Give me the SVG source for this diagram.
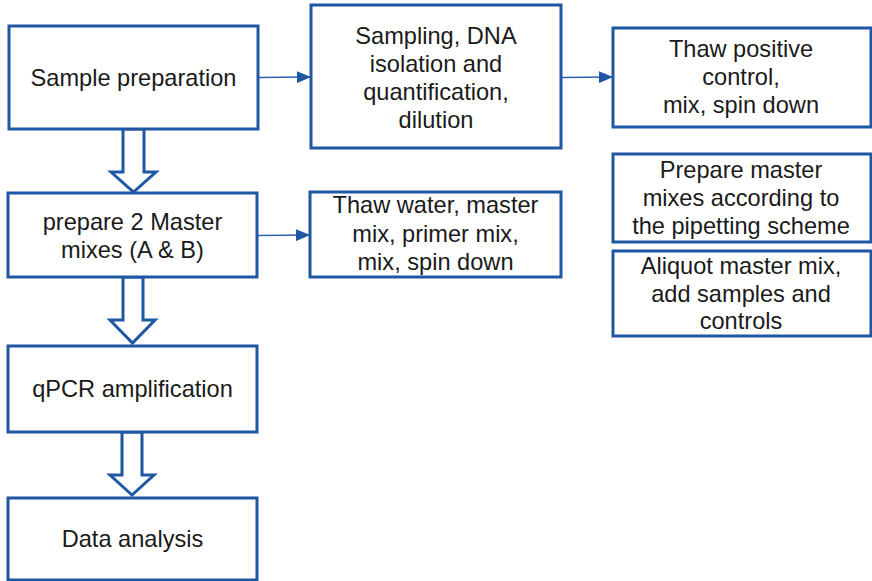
<svg xmlns="http://www.w3.org/2000/svg" width="872" height="581" viewBox="0 0 872 581">
<style>
.box{fill:#ffffff;stroke:#1f57a4;stroke-width:3}
.big{fill:#ffffff;stroke:#1f57a4;stroke-width:3;stroke-linejoin:miter}
.t{font-family:"Liberation Sans",Arial,sans-serif;font-size:23.6px;fill:#1a1a1a;text-anchor:middle}
.con{stroke:#2e62ab;stroke-width:1.3;fill:none}
</style>
<defs>
<marker id="ah" markerWidth="14" markerHeight="12" refX="14" refY="6" orient="auto" markerUnits="userSpaceOnUse">
<path d="M0,0 L14,6 L0,12 Z" fill="#1f57a4"/>
</marker>
</defs>
<rect width="872" height="581" fill="#ffffff"/>
<g id="connectors">
<line class="con" x1="258" y1="77.5" x2="311" y2="77" marker-end="url(#ah)"/>
<line class="con" x1="561" y1="77.5" x2="613" y2="77" marker-end="url(#ah)"/>
<line class="con" x1="257" y1="235.5" x2="310" y2="235" marker-end="url(#ah)"/>
<polygon class="big" points="123,129 144,129 144,172 156,172 133.5,192 111,172 123,172"/>
<polygon class="big" points="123,277 143,277 143,320 155,320 132.5,343 110,320 123,320"/>
<polygon class="big" points="122,432 142,432 142,475 154,475 132,495 110,475 122,475"/>
</g>
<g id="n1">
<rect class="box" x="9" y="26" width="249" height="103"/>
<text class="t" x="133.5" y="85.5">Sample preparation</text>
</g>
<g id="n2">
<rect class="box" x="311" y="5" width="250" height="143"/>
<text class="t" x="436" y="44">Sampling,  DNA</text>
<text class="t" x="436" y="72">isolation and</text>
<text class="t" x="436" y="100">quantification,</text>
<text class="t" x="436" y="128">dilution</text>
</g>
<g id="n3">
<rect class="box" x="613" y="28" width="258" height="99"/>
<text class="t" x="741" y="57">Thaw positive</text>
<text class="t" x="741" y="85">control,</text>
<text class="t" x="741" y="113">mix, spin down</text>
</g>
<g id="n4">
<rect class="box" x="613" y="154" width="258" height="88"/>
<text class="t" x="741" y="178">Prepare master</text>
<text class="t" x="741" y="206">mixes according to</text>
<text class="t" x="741" y="234">the pipetting scheme</text>
</g>
<g id="n5">
<rect class="box" x="613" y="251" width="258" height="85"/>
<text class="t" x="741" y="274">Aliquot master mix,</text>
<text class="t" x="741" y="302">add samples and</text>
<text class="t" x="741" y="329">controls</text>
</g>
<g id="n6">
<rect class="box" x="8" y="193" width="249" height="84"/>
<text class="t" x="132.5" y="230">prepare 2 Master</text>
<text class="t" x="132.5" y="258">mixes (A &amp; B)</text>
</g>
<g id="n7">
<rect class="box" x="310" y="192" width="251" height="85"/>
<text class="t" x="435.5" y="213">Thaw water, master</text>
<text class="t" x="435.5" y="242">mix, primer mix,</text>
<text class="t" x="435.5" y="270">mix, spin down</text>
</g>
<g id="n8">
<rect class="box" x="8" y="346" width="249" height="86"/>
<text class="t" x="132.5" y="397">qPCR amplification</text>
</g>
<g id="n9">
<rect class="box" x="8" y="498" width="249" height="82"/>
<text class="t" x="132.5" y="547">Data analysis</text>
</g>
</svg>
